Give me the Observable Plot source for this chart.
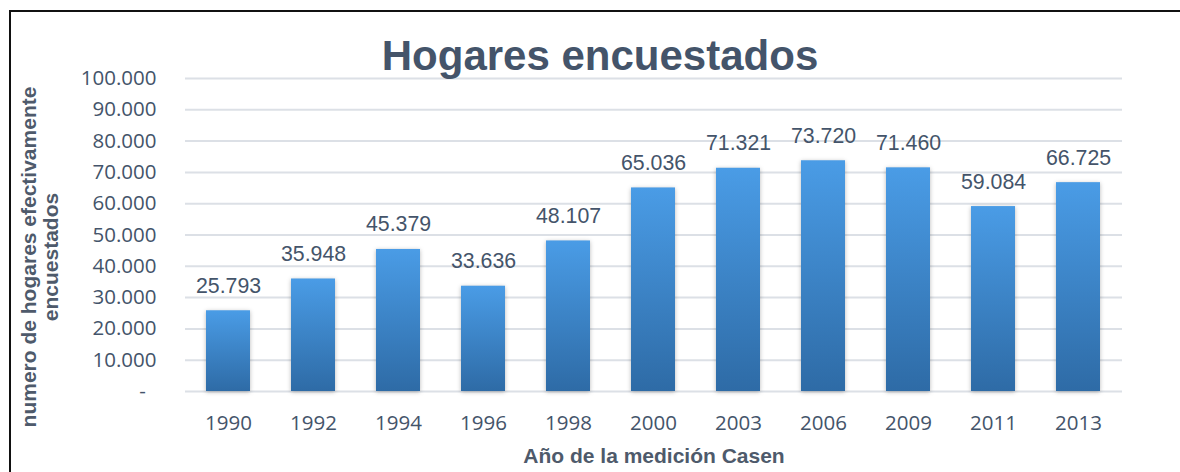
<!DOCTYPE html>
<html><head><meta charset="utf-8">
<script src="https://cdn.jsdelivr.net/npm/d3@7"></script>
<script src="https://cdn.jsdelivr.net/npm/@observablehq/plot@0.6"></script>
<style>
body{margin:0;background:#fff;}
#wrap{position:relative;width:1180px;height:472px;overflow:hidden;}
#border{position:absolute;left:9px;top:10px;right:-5px;bottom:-5px;border-left:2px solid #111;border-top:2px solid #111;pointer-events:none;}
.bars rect{filter:drop-shadow(0px 1px 2px rgba(0,0,0,0.28));}
</style></head><body>
<div id="wrap"><div id="chart"></div><div id="border"></div></div>
<script>
const years = [1990, 1992, 1994, 1996, 1998, 2000, 2003, 2006, 2009, 2011, 2013];
const values = [25793, 35948, 45379, 33636, 48107, 65036, 71321, 73720, 71460, 59084, 66725];
const yTicks = [0, 10000, 20000, 30000, 40000, 50000, 60000, 70000, 80000, 90000, 100000];
const title = "Hogares encuestados";
const yTitle = "numero de hogares efectivamente\nencuestados";
const xTitle = "Año de la medición Casen";

const data = years.map((y, i) => ({year: String(y), value: values[i]}));
const loc = d3.formatLocale({decimal: ",", thousands: ".", grouping: [3], currency: ["", ""]});
const fmt = loc.format(",d");
const slate = "#44546A";
const gray = "#4E5A6B";

const plot = Plot.plot({
  width: 1180, height: 472,
  marginLeft: 185, marginRight: 58, marginTop: 78, marginBottom: 81,
  style: {background: "#fff", overflow: "visible"},
  x: {type: "band", domain: data.map(d => d.year), paddingInner: 0.48, paddingOuter: 0.24, label: null},
  y: {domain: [0, 100000], label: null},
  marks: [
    Plot.gridY(yTicks, {stroke: "#DCE0E6", strokeOpacity: 1, strokeWidth: 2}),
    Plot.barY(data, {x: "year", y: "value", fill: "url(#barGrad)", className: "bars"}),
    Plot.axisY(yTicks, {tickSize: 0, tickPadding: 29, tickFormat: d => d === 0 ? "-\u00a0\u00a0" : fmt(d),
      fontSize: 20.5, fontFamily: "Open Sans", fill: slate, label: null}),
    Plot.axisX({tickSize: 0, tickPadding: 24, fontSize: 20.5, fontFamily: "Open Sans", fill: slate, label: null}),
    Plot.text(data, {x: "year", y: "value", text: d => fmt(d.value), dy: -18, lineAnchor: "bottom",
      fontSize: 21.3, fontFamily: "Liberation Sans", fill: slate}),
    Plot.text([title], {text: d => d, frameAnchor: "top", dx: -54, dy: -9, lineAnchor: "bottom",
      fontSize: 42, fontWeight: "bold", fontFamily: "Liberation Sans", fill: slate}),
    Plot.text([xTitle], {text: d => d, frameAnchor: "bottom", dy: 65, lineAnchor: "middle",
      fontSize: 21, fontWeight: "bold", fontFamily: "Liberation Sans", fill: gray}),
    Plot.text([yTitle], {text: d => d, frameAnchor: "left", dx: -146, dy: 22, rotate: -90,
      textAnchor: "middle", lineAnchor: "middle", lineHeight: 1.05,
      fontSize: 21, fontWeight: "bold", fontFamily: "Liberation Sans", fill: gray})
  ]
});

d3.select(plot).insert("defs", ":first-child").html(
  '<linearGradient id="barGrad" x1="0" y1="0" x2="0" y2="1">' +
  '<stop offset="0" stop-color="#4A9CE6"/>' +
  '<stop offset="1" stop-color="#2E6BA6"/>' +
  '</linearGradient>');

document.getElementById("chart").appendChild(plot);
</script>
</body></html>
